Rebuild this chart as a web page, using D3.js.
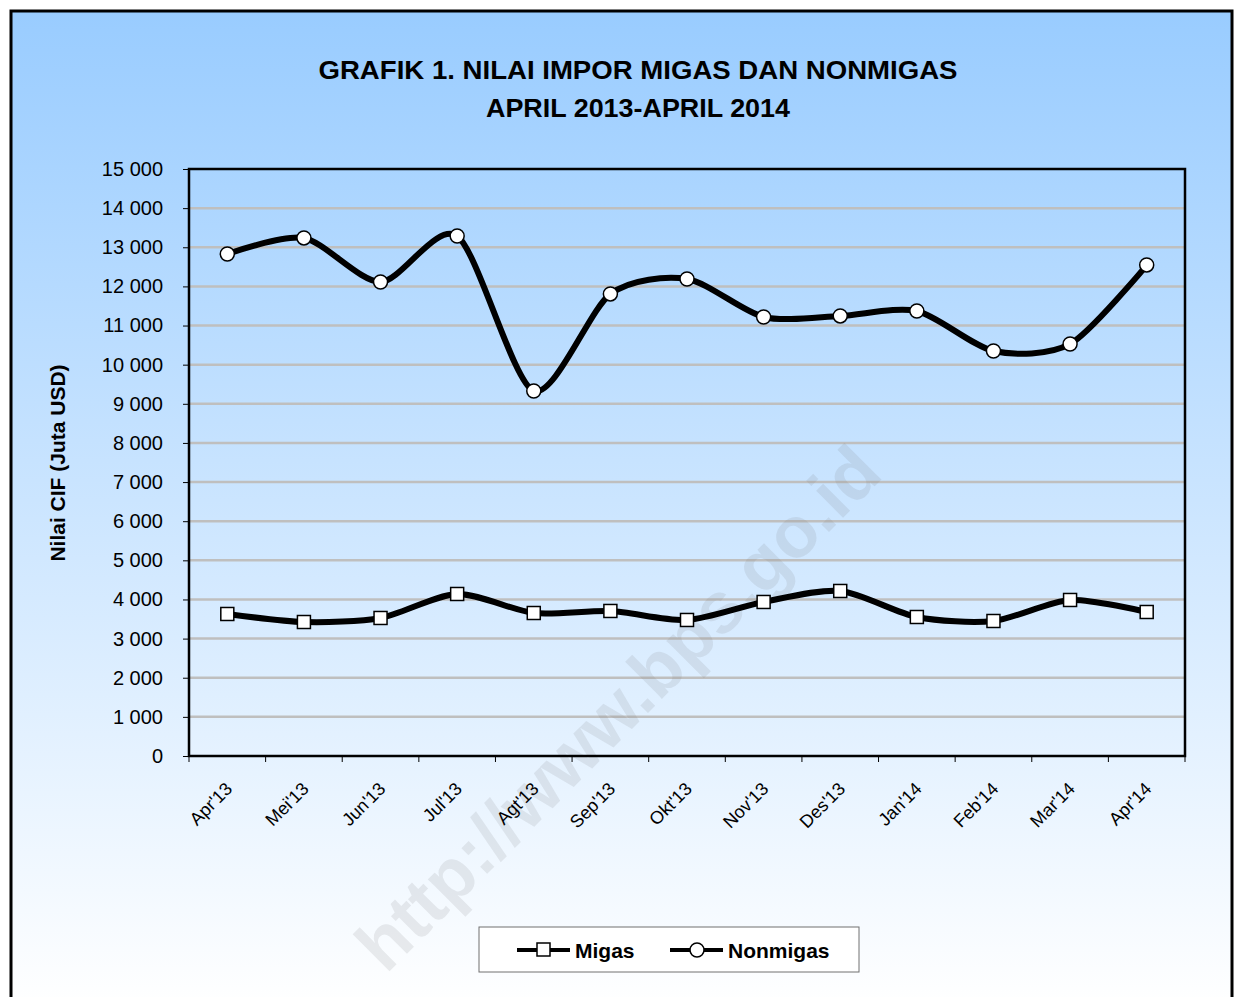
<!DOCTYPE html>
<html><head><meta charset="utf-8">
<script src="https://cdn.jsdelivr.net/npm/d3@7"></script>
<style>body{margin:0;background:#fff}svg{display:block}</style>
</head><body>
<script>
const categories = ["Apr'13","Mei'13","Jun'13","Jul'13","Agt'13","Sep'13","Okt'13","Nov'13","Des'13","Jan'14","Feb'14","Mar'14","Apr'14"];
const migas = [3629,3424,3527,4140,3654,3706,3476,3936,4217,3552,3450,3987,3680];
const nonmigas = [12829,13238,12113,13289,9328,11807,12190,11219,11245,11372,10350,10529,12548];
const yTicks = [0,1000,2000,3000,4000,5000,6000,7000,8000,9000,10000,11000,12000,13000,14000,15000];
const titleLines = ["GRAFIK 1. NILAI IMPOR MIGAS DAN NONMIGAS","APRIL 2013-APRIL 2014"];
const yTitle = "Nilai CIF (Juta USD)";
const seriesNames = ["Migas","Nonmigas"];

const W=1235,H=997;
const FONT="Liberation Sans, Arial, sans-serif";
const svg=d3.select("body").append("svg").attr("width",W).attr("height",H);
const defs=svg.append("defs");
const g=defs.append("linearGradient").attr("id","bg").attr("x1",0).attr("y1",0).attr("x2",0).attr("y2",1);
g.append("stop").attr("offset","0%").attr("stop-color","#99ccff");
g.append("stop").attr("offset","100%").attr("stop-color","#ffffff");

svg.append("rect").attr("x",11).attr("y",11).attr("width",1221).attr("height",H).attr("fill","url(#bg)").attr("stroke","#000").attr("stroke-width",3);

const m={l:189,r:1185,t:169,b:756};
const x=d3.scaleBand().domain(categories).range([m.l,m.r]);
const y=d3.scaleLinear().domain([0,15000]).range([m.b,m.t]);

// gridlines
svg.append("g").selectAll("line").data(yTicks.filter(d=>d>0&&d<15000)).join("line")
 .attr("x1",m.l).attr("x2",m.r).attr("y1",d=>y(d)).attr("y2",d=>y(d))
 .attr("stroke","#bfbfbf").attr("stroke-width",2.5);

// watermark
svg.append("text").attr("transform","translate(622,712) rotate(-45)")
 .attr("text-anchor","middle").attr("dominant-baseline","middle")
 .attr("font-family",FONT).attr("font-weight","bold").attr("font-size",72)
 .attr("fill","rgba(120,120,120,0.14)").text("http://www.bps.go.id");

// y axis
const yAxis=d3.axisLeft(y).tickValues(yTicks).tickSize(6).tickPadding(20)
 .tickFormat(d=>d3.format(",")(d).replace(/,/g," "));
const ya=svg.append("g").attr("transform",`translate(${m.l},0)`).call(yAxis);
ya.select(".domain").remove();
ya.selectAll("line").attr("stroke","#000").attr("stroke-width",1);
ya.selectAll("text").attr("font-family",FONT).attr("font-size",20).attr("fill","#000");

// x axis
const xa=svg.append("g").attr("transform",`translate(0,${m.b})`);
xa.selectAll("line.tk").data(d3.range(categories.length+1)).join("line").attr("class","tk")
 .attr("x1",i=>m.l+i*x.step()).attr("x2",i=>m.l+i*x.step()).attr("y1",0).attr("y2",6)
 .attr("stroke","#000").attr("stroke-width",1);
xa.selectAll("text").data(categories).join("text")
 .attr("transform",d=>`translate(${x(d)+x.bandwidth()/2+6},${34}) rotate(-45)`)
 .attr("text-anchor","end").attr("font-family",FONT).attr("font-size",18).attr("fill","#000")
 .text(d=>d);

// plot border
svg.append("rect").attr("x",m.l).attr("y",m.t).attr("width",m.r-m.l).attr("height",m.b-m.t)
 .attr("fill","none").attr("stroke","#000").attr("stroke-width",2.5);

const cx=d=>x(d)+x.bandwidth()/2;
const line=d3.line().x((d,i)=>cx(categories[i])).y(d=>y(d)).curve(d3.curveCardinal.tension(0.2));
[migas,nonmigas].forEach(s=>{
 svg.append("path").attr("d",line(s)).attr("fill","none").attr("stroke","#000").attr("stroke-width",6).attr("stroke-linejoin","round");
});
svg.append("g").selectAll("rect").data(migas).join("rect")
 .attr("x",(d,i)=>cx(categories[i])-6.5).attr("y",d=>y(d)-6.5).attr("width",13).attr("height",13)
 .attr("fill","#fff").attr("stroke","#000").attr("stroke-width",1.5);
svg.append("g").selectAll("circle").data(nonmigas).join("circle")
 .attr("cx",(d,i)=>cx(categories[i])).attr("cy",d=>y(d)).attr("r",7)
 .attr("fill","#fff").attr("stroke","#000").attr("stroke-width",1.5);

// title
const tl=[639,304];
svg.append("g").selectAll("text").data(titleLines).join("text")
 .attr("x",638).attr("y",(d,i)=>79+i*38).attr("text-anchor","middle")
 .attr("font-family",FONT).attr("font-weight","bold").attr("font-size",25)
 .attr("textLength",(d,i)=>tl[i]).attr("lengthAdjust","spacingAndGlyphs")
 .attr("fill","#000").text(d=>d);

// y title
svg.append("text").attr("transform","translate(65,463) rotate(-90)").attr("text-anchor","middle")
 .attr("font-family",FONT).attr("font-weight","bold").attr("font-size",21)
 .attr("fill","#000").text(yTitle);

// legend
const lg=svg.append("g");
lg.append("rect").attr("x",479).attr("y",927).attr("width",380).attr("height",45).attr("fill","#fff").attr("stroke","#707070").attr("stroke-width",1);
const items=[{x:517,name:seriesNames[0],sq:true},{x:670,name:seriesNames[1],sq:false}];
items.forEach(it=>{
 lg.append("line").attr("x1",it.x).attr("x2",it.x+53).attr("y1",950).attr("y2",950).attr("stroke","#000").attr("stroke-width",4);
 if(it.sq) lg.append("rect").attr("x",it.x+20).attr("y",943).attr("width",13).attr("height",13).attr("fill","#fff").attr("stroke","#000").attr("stroke-width",1.5);
 else lg.append("circle").attr("cx",it.x+27).attr("cy",950).attr("r",7).attr("fill","#fff").attr("stroke","#000").attr("stroke-width",1.5);
 lg.append("text").attr("x",it.x+58).attr("y",958).attr("font-family",FONT).attr("font-weight","bold").attr("font-size",21).attr("fill","#000").text(it.name);
});
</script>
</body></html>
